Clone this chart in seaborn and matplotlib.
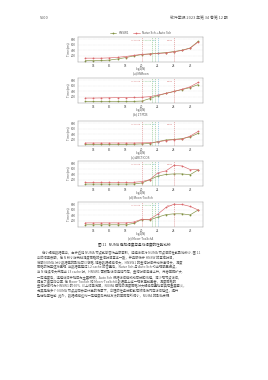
import numpy as np
import pandas as pd
import matplotlib
matplotlib.use("Agg")
import matplotlib.pyplot as plt
import seaborn as sns

sns.set_theme(style="white")
plt.rcParams['font.family'] = ['Noto Sans CJK SC', 'DejaVu Sans']
plt.rcParams['axes.unicode_minus'] = False

# data
log2n = list(range(13, 28))
series_names = ["HNSW1", "Naive Sch + Auto Sch"]
panel_titles = ["(a) MiMoon", "(b) 1T PDB", "(c) ARCTICOS", "(d) Moon-ToxSch", "(e) Moon-ToxSch4"]

hnsw_a = [20, 20, 25, 40, 80, 130, 190, 240, 265, 290, 310, 350, 400, 480, 720]
sched_a = [110, 110, 110, 120, 140, 170, 210, 250, 260, 280, 300, 340, 390, 470, 700]
hnsw_b = [30, 30, 30, 30, 30, 30, 30, 40, 130, 240, 320, 390, 460, 530, 640]
sched_b = [150, 150, 155, 160, 165, 170, 175, 180, 200, 260, 320, 390, 470, 560, 720]
hnsw_c = [30, 30, 30, 30, 30, 30, 35, 45, 60, 130, 190, 210, 240, 300, 430]
sched_c = [80, 80, 80, 80, 80, 80, 80, 85, 90, 120, 170, 200, 220, 330, 500]
hnsw_d = [40, 40, 40, 40, 40, 40, 45, 80, 200, 330, 390, 410, 410, 380, 560]
sched_d = [100, 100, 100, 100, 100, 100, 105, 130, 200, 450, 520, 720, 700, 570, 560]
hnsw_e = [50, 50, 50, 50, 50, 50, 100, 240, 230, 330, 420, 450, 450, 410, 590]
sched_e = [120, 120, 120, 120, 120, 120, 150, 250, 250, 440, 680, 800, 790, 720, 590]

hnsw_all = [hnsw_a, hnsw_b, hnsw_c, hnsw_d, hnsw_e]
sched_all = [sched_a, sched_b, sched_c, sched_d, sched_e]

# cache boundaries (log2 N)
cache_x = [20, 21.3, 21.6, 22.0, 24]
cache_labels = ["L2 cache", "L3 cache", "", "LLC", "DRAM"]
cache_colors = ["#d98080", "#7fbf7f", "#7fbf7f", "#6fb7d9", "#d98080"]

header_left = "5600"
header_right = "软件学报 2023 年第 34 卷第 12 期"
fig_caption = "图 11   NUMA 感知调度与基线调度的性能比较"
x_label = "log2(N)"
y_label = "Time (ms)"
body_lines = [
    "在小规模数据集中，由于近端 NUMA 节点能够容纳全部索引，远程访问对 NUMA 节点间的性能影响较小. 图 11",
    "中的结果表明，在 N 较小时两种调度策略的查询时间基本一致，并且都低于 HNSW 的基准时间，",
    "说明 NUMA 对小数据集的影响可以忽略. 随着数据规模增大，HNSW1 的查询时间开始快速增长，调度",
    "策略的优势逐渐显现. 当数据集超过 L2 cache 的容量后，Naive Sch 与 Auto Sch 均出现明显拐点，",
    "当 N 继续增大并超出 L3 cache 时，HNSW1 需频繁访问远端内存，查询时间迅速上升，两者差距扩大.",
    "一定程度后，远程访问开销成为主要瓶颈，Auto Sch 根据访问模式动态分配线程，减少跨节点访问，",
    "提高了缓存命中率. 在 Moon-ToxSch 和 Moon-ToxSch4 数据集上这一现象更加显著，调度策略的",
    "查询时间约为 HNSW1 的 60%. 以上结果说明，NUMA 感知的调度策略对大规模向量检索具有重要意义，",
    "尤其是在多个 NUMA 节点共同参与计算的场景下，合理的任务分配能有效降低内存访问延迟，提升",
    "整体检索性能. 此外，数据规模达到一定程度后两种方法的差距有所缩小，NUMA 的影响变弱.",
]

W, H = 268, 380
fig = plt.figure(figsize=(W / 100, H / 100), dpi=100)
fig.patch.set_facecolor("white")

green = "#7f8f3f"
red = "#d9666a"
palette = {series_names[0]: green, series_names[1]: red}

ax_left, ax_right = 78, 203
tops = [37, 78, 121, 161, 202]
ax_h = 25
fs = 2.2
txt = "#555555"

def px_axes(left, top, width, height):
    return fig.add_axes([left / W, 1 - (top + height) / H, width / W, height / H])

for i in range(5):
    ax = px_axes(ax_left, tops[i], ax_right - ax_left, ax_h)
    df = pd.DataFrame({
        "log2N": log2n * 2,
        "time": hnsw_all[i] + sched_all[i],
        "method": [series_names[0]] * len(log2n) + [series_names[1]] * len(log2n),
    })
    sns.lineplot(data=df, x="log2N", y="time", hue="method", palette=palette,
                 marker="o", markersize=1.3, markeredgewidth=0, linewidth=0.45,
                 ax=ax, legend=(i == 0))
    for cx, cl, cc in zip(cache_x, cache_labels, cache_colors):
        ax.axvline(cx, color=cc, linestyle=(0, (2, 1.5)), linewidth=0.4)
        if cl:
            ax.text(cx - 0.15, 760, cl, fontsize=1.6, color=cc, ha="right", va="center")
    ax.set_xlim(12.1, 27.6)
    ax.set_ylim(-30, 880)
    ax.set_xticks([14, 16, 18, 20, 22, 24, 26])
    ax.set_yticks([200, 400, 600, 800])
    ax.yaxis.grid(True, color="#dddddd", linestyle=(0, (1, 1)), linewidth=0.3)
    ax.tick_params(labelsize=fs, length=1, width=0.3, pad=0.4, colors=txt)
    for s in ax.spines.values():
        s.set_linewidth(0.3)
        s.set_color("#888888")
    ax.set_xlabel("")
    ax.set_ylabel(y_label, fontsize=fs, labelpad=0.8, color=txt)
    cx_fig = (ax_left + ax_right) / 2 / W
    bottom = tops[i] + ax_h
    fig.text(cx_fig, 1 - (bottom + 7.2) / H, x_label, fontsize=fs, ha="center", va="center", color=txt)
    fig.text(cx_fig, 1 - (bottom + 11.6) / H, panel_titles[i],
             fontsize=fs, ha="center", va="center", color=txt)
    if i == 0:
        leg = ax.legend(loc="lower center", bbox_to_anchor=(0.5, 1.0), ncol=2, frameon=False,
                        fontsize=fs, handlelength=2, columnspacing=1.5, borderpad=0.2)
        for line in leg.get_lines():
            line.set_linewidth(0.45)
        for t in leg.get_texts():
            t.set_color(txt)

fig.text(40 / W, 1 - 18 / H, header_left, fontsize=2.8, ha="left", va="center", color=txt)
fig.text(228 / W, 1 - 18 / H, header_right, fontsize=2.8, ha="right", va="center", color=txt)
fig.text(134 / W, 1 - 245 / H, fig_caption, fontsize=2.6, ha="center", va="center", color="#333333")

y0 = 253
for k, line in enumerate(body_lines):
    x = 42 if k == 0 else 37
    fig.text(x / W, 1 - (y0 + k * 4.8) / H, line, fontsize=2.35, ha="left", va="center", color=txt)

fig.savefig("out.png", dpi=100, facecolor="white")
